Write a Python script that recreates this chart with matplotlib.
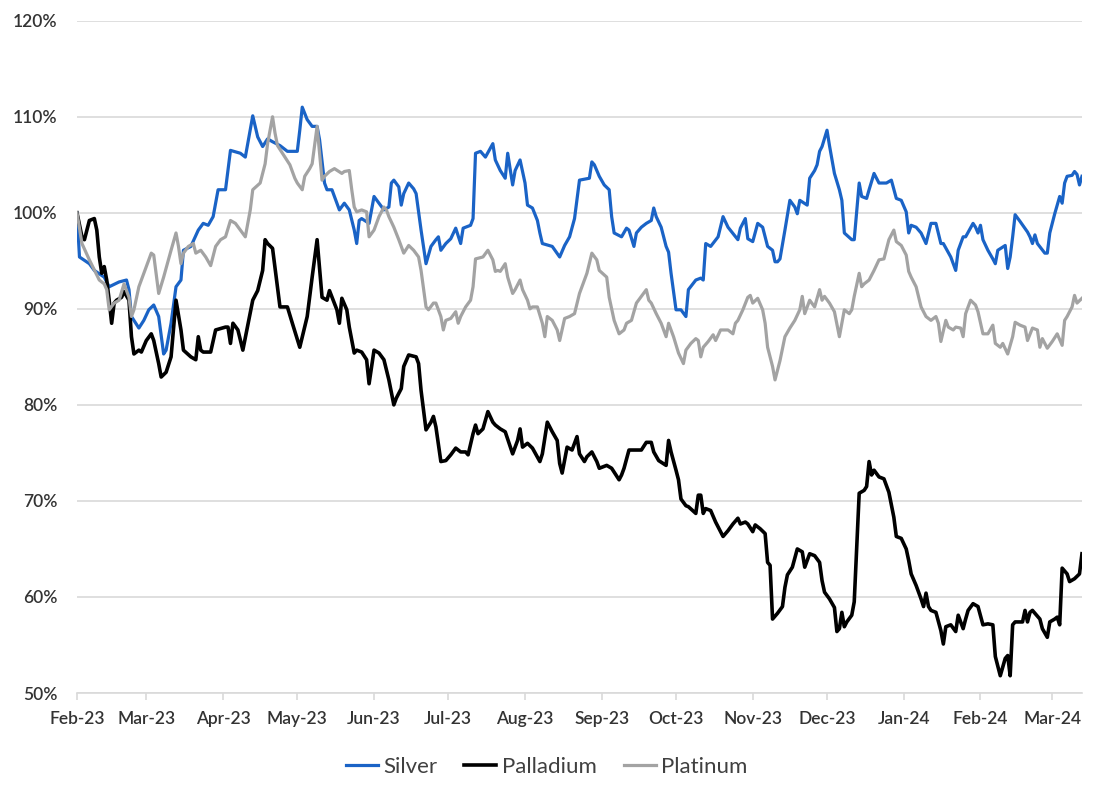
import numpy as np
import pandas as pd
import matplotlib
matplotlib.use('Agg')
import matplotlib.pyplot as plt
import matplotlib.dates as mdates
from matplotlib.ticker import FuncFormatter

plt.rcParams['font.family'] = ['Lato', 'DejaVu Sans']

## ------------ data, % of 1 Feb 2023 level ------------
start_date = '2023-02-01'

silver_day = [
    0, 1, 5, 7, 11, 13, 17, 20, 21, 22, 25, 27, 29, 31, 33, 35, 36, 38, 40, 42,
    43, 46, 49, 51, 53, 55, 57, 60, 62, 66, 68, 71, 73, 75, 77, 79, 82, 85, 89, 90,
    91, 93, 95, 97, 98, 100, 101, 103, 105, 106, 108, 110, 112, 113, 114, 115, 118, 120, 124, 126,
    127, 128, 130, 131, 132, 134, 136, 137, 139, 141, 143, 145, 146, 147, 149, 151, 153, 155, 156, 159,
    160, 161, 163, 165, 168, 169, 171, 173, 174, 176, 177, 179, 181, 182, 184, 186, 187, 188, 192, 195,
    197, 199, 201, 203, 207, 208, 209, 211, 213, 215, 216, 217, 220, 222, 223, 225, 226, 228, 230, 232,
    233, 234, 236, 238, 239, 240, 242, 244, 246, 247, 250, 252, 253, 254, 256, 259, 261, 263, 267, 268,
    270, 271, 273, 275, 277, 279, 281, 282, 283, 284, 286, 288, 290, 291, 292, 295, 296, 298, 299, 300,
    301, 303, 304, 306, 308, 309, 310, 313, 314, 316, 317, 319, 320, 322, 324, 327, 329, 331, 333, 335,
    336, 337, 339, 341, 343, 345, 347, 349, 350, 353, 355, 356, 358, 359, 362, 363, 364, 365, 366, 368,
    370, 371, 372, 375, 376, 377, 378, 379, 381, 384, 385, 386, 387, 388, 391, 392, 393, 395, 397, 398,
    399, 400, 402, 403, 404, 405, 406]
silver_pct = [
    100.0, 95.4, 94.7, 94.0, 93.3, 92.3, 92.8, 93.0, 92.0, 89.2, 88.0, 88.8, 89.9, 90.4, 89.2, 85.3, 85.7, 88.5, 92.3, 93.0,
    96.1, 96.5, 98.2, 98.9, 98.7, 99.6, 102.4, 102.4, 106.5, 106.2, 105.8, 110.1, 107.9, 106.9, 107.7, 107.4, 107.0, 106.4, 106.4, 108.6,
    111.0, 109.7, 109.0, 109.0, 107.6, 103.1, 102.4, 102.4, 101.0, 100.3, 101.0, 100.3, 98.2, 96.8, 99.2, 99.4, 98.9, 101.7, 100.3, 100.6,
    103.1, 103.4, 102.7, 100.8, 102.0, 103.1, 102.5, 102.0, 98.2, 94.7, 96.5, 97.2, 97.5, 96.1, 96.8, 97.3, 98.4, 96.8, 98.4, 98.7,
    99.4, 106.2, 106.4, 105.8, 107.2, 105.5, 104.4, 103.6, 106.2, 102.9, 104.4, 105.5, 103.1, 100.8, 100.5, 99.2, 97.9, 96.8, 96.5, 95.4,
    96.6, 97.5, 99.4, 103.4, 103.6, 105.3, 105.0, 103.8, 102.9, 102.4, 99.6, 97.9, 97.5, 98.4, 98.2, 96.5, 97.9, 98.5, 98.9, 99.2,
    100.5, 99.6, 98.5, 96.5, 95.9, 93.7, 89.9, 89.9, 89.2, 92.0, 93.0, 93.2, 93.0, 96.8, 96.5, 97.5, 99.6, 98.5, 97.2, 98.4,
    99.4, 97.3, 97.0, 98.9, 98.5, 96.5, 96.1, 94.9, 94.9, 95.2, 98.2, 101.3, 100.6, 99.9, 101.3, 100.8, 103.6, 104.4, 105.0, 106.4,
    106.9, 108.6, 107.0, 104.1, 102.4, 101.3, 97.9, 97.2, 97.2, 103.1, 101.7, 101.5, 102.4, 104.1, 103.1, 103.1, 103.4, 101.5, 101.3, 100.1,
    97.9, 98.7, 98.5, 97.9, 96.8, 98.9, 98.9, 96.8, 96.8, 95.4, 94.0, 96.1, 97.5, 97.5, 98.9, 98.5, 97.9, 98.7, 97.2, 96.1,
    95.2, 94.7, 96.1, 96.6, 94.2, 95.4, 97.5, 99.8, 99.1, 98.0, 97.5, 96.8, 97.7, 96.8, 95.8, 95.8, 97.9, 99.9, 101.7, 101.0,
    103.1, 103.8, 103.9, 104.3, 104.0, 102.9, 103.8]

palladium_day = [
    0, 2, 3, 5, 7, 8, 9, 10, 11, 12, 13, 14, 15, 16, 18, 19, 21, 22, 23, 25,
    26, 28, 30, 31, 33, 34, 36, 38, 40, 42, 43, 46, 48, 49, 50, 51, 54, 56, 60, 61,
    62, 63, 65, 67, 71, 73, 75, 76, 77, 79, 82, 85, 87, 90, 93, 95, 97, 99, 101, 102,
    105, 106, 107, 109, 110, 112, 113, 115, 117, 118, 120, 122, 124, 126, 128, 129, 131, 132, 134, 137,
    138, 139, 141, 143, 144, 145, 147, 149, 151, 153, 155, 157, 158, 160, 161, 162, 164, 166, 168, 169,
    171, 173, 176, 178, 179, 180, 182, 184, 187, 188, 190, 192, 194, 195, 196, 198, 200, 202, 203, 205,
    206, 208, 210, 211, 214, 216, 217, 219, 220, 221, 223, 228, 230, 232, 233, 235, 238, 239, 240, 242,
    243, 244, 246, 247, 250, 251, 252, 253, 254, 256, 258, 261, 263, 265, 267, 268, 270, 271, 273, 274,
    276, 278, 279, 280, 281, 283, 285, 286, 287, 289, 291, 293, 294, 296, 298, 300, 301, 302, 304, 306,
    307, 308, 309, 310, 311, 313, 314, 316, 318, 319, 320, 321, 322, 324, 326, 328, 330, 331, 333, 335,
    336, 337, 339, 341, 342, 343, 344, 345, 347, 349, 350, 351, 353, 355, 356, 358, 359, 360, 362, 364,
    366, 368, 370, 371, 373, 375, 376, 377, 378, 379, 382, 383, 384, 385, 386, 389, 390, 392, 393, 395,
    396, 397, 398, 400, 401, 403, 405, 406]
palladium_pct = [
    100.0, 97.5, 97.2, 99.2, 99.4, 98.2, 95.4, 93.7, 94.4, 93.0, 90.9, 88.5, 90.6, 90.9, 91.2, 91.8, 90.9, 87.1, 85.3, 85.7,
    85.5, 86.7, 87.4, 86.7, 84.3, 82.9, 83.4, 85.0, 90.9, 87.8, 85.7, 85.0, 84.7, 87.1, 85.7, 85.5, 85.5, 87.8, 88.1, 88.1,
    86.4, 88.5, 87.8, 85.7, 90.9, 91.9, 94.0, 97.2, 96.8, 96.3, 90.2, 90.2, 88.5, 86.0, 89.2, 93.3, 97.2, 91.2, 90.9, 91.9,
    89.9, 88.5, 91.1, 89.9, 88.1, 85.4, 85.7, 85.5, 84.7, 82.2, 85.7, 85.4, 84.7, 82.6, 80.0, 80.7, 81.7, 84.0, 85.2, 85.0,
    84.3, 81.5, 77.4, 78.2, 78.8, 77.7, 74.1, 74.2, 74.8, 75.5, 75.1, 75.1, 74.8, 77.0, 77.9, 77.0, 77.5, 79.3, 78.2, 77.9,
    77.5, 77.2, 74.9, 76.3, 77.5, 75.6, 76.0, 75.5, 74.1, 74.9, 78.2, 77.2, 76.3, 73.9, 72.9, 75.6, 75.3, 76.7, 74.9, 74.1,
    74.6, 75.1, 74.1, 73.4, 73.7, 73.4, 73.0, 72.2, 72.7, 73.4, 75.3, 75.3, 76.1, 76.1, 75.1, 74.2, 73.7, 76.3, 75.1, 73.2,
    72.2, 70.2, 69.5, 69.4, 68.7, 70.6, 70.6, 68.7, 69.2, 69.0, 67.8, 66.3, 66.9, 67.6, 68.2, 67.6, 67.8, 67.6, 66.8, 67.5,
    67.1, 66.6, 63.6, 63.3, 57.7, 58.3, 59.0, 61.0, 62.3, 63.1, 65.0, 64.7, 63.1, 64.5, 64.3, 63.6, 61.7, 60.5, 59.8, 58.9,
    56.4, 56.7, 58.4, 56.9, 57.4, 58.1, 59.5, 70.8, 71.1, 71.5, 74.1, 72.7, 73.2, 72.5, 72.3, 70.9, 68.3, 66.3, 66.1, 65.0,
    63.8, 62.4, 61.2, 59.8, 59.0, 60.4, 59.0, 58.6, 58.4, 56.5, 55.1, 56.9, 57.1, 56.4, 58.1, 56.7, 57.7, 58.6, 59.3, 59.0,
    57.1, 57.2, 57.1, 53.8, 51.8, 53.6, 53.9, 51.8, 57.1, 57.4, 57.4, 58.6, 57.4, 58.4, 58.6, 57.7, 56.7, 55.8, 57.4, 57.7,
    57.9, 57.1, 63.0, 62.4, 61.6, 61.9, 62.4, 64.5]

platinum_day = [
    0, 2, 5, 9, 11, 12, 13, 15, 17, 19, 21, 22, 23, 25, 27, 30, 31, 33, 35, 38,
    40, 41, 42, 43, 45, 47, 48, 50, 52, 54, 56, 58, 60, 62, 64, 66, 68, 70, 71, 74,
    76, 77, 79, 80, 81, 83, 86, 88, 89, 91, 92, 94, 95, 97, 99, 100, 102, 104, 107, 108,
    110, 111, 112, 113, 115, 117, 118, 120, 122, 124, 125, 126, 128, 130, 132, 134, 136, 138, 139, 141,
    142, 144, 145, 147, 148, 149, 151, 153, 154, 155, 157, 159, 160, 161, 164, 166, 168, 169, 170, 171,
    173, 174, 176, 177, 179, 180, 182, 183, 184, 186, 188, 189, 190, 192, 194, 195, 197, 199, 201, 203,
    206, 208, 210, 211, 214, 215, 217, 219, 221, 222, 224, 226, 228, 230, 231, 232, 234, 236, 238, 239,
    241, 243, 245, 246, 248, 250, 251, 252, 253, 255, 257, 258, 260, 263, 265, 266, 267, 269, 271, 272,
    273, 275, 277, 278, 279, 281, 282, 283, 284, 286, 288, 290, 292, 293, 294, 296, 298, 300, 301, 302,
    304, 306, 308, 310, 312, 313, 314, 316, 317, 318, 320, 322, 324, 326, 328, 330, 331, 333, 335, 336,
    337, 339, 341, 343, 345, 347, 348, 349, 351, 352, 354, 355, 357, 358, 359, 361, 363, 364, 366, 368,
    370, 371, 373, 374, 376, 378, 379, 381, 383, 384, 386, 388, 389, 390, 392, 394, 396, 398, 399, 400,
    402, 403, 404, 406]
platinum_pct = [
    100.0, 96.8, 95.1, 93.0, 92.6, 92.0, 89.9, 90.6, 90.9, 92.6, 91.2, 89.2, 89.9, 92.3, 93.7, 95.8, 95.6, 91.6, 93.3, 96.1,
    97.9, 96.5, 94.7, 95.8, 96.5, 96.8, 95.8, 96.1, 95.4, 94.5, 96.5, 97.2, 97.5, 99.2, 98.9, 98.2, 97.5, 100.3, 102.4, 103.1,
    105.1, 107.2, 110.0, 108.3, 107.0, 106.2, 105.0, 103.6, 103.1, 102.4, 103.8, 104.6, 105.1, 109.0, 103.4, 103.8, 104.3, 104.6, 104.1, 104.3,
    104.4, 102.4, 100.6, 100.1, 100.3, 100.1, 97.5, 98.2, 99.6, 100.6, 100.3, 99.6, 98.5, 97.2, 95.8, 96.6, 96.1, 95.4, 94.0, 90.2,
    89.9, 90.6, 90.6, 89.2, 87.8, 88.8, 89.0, 89.7, 88.5, 89.2, 90.2, 90.9, 92.3, 95.2, 95.4, 96.1, 95.1, 93.9, 94.0, 93.9,
    94.7, 93.3, 91.6, 92.0, 93.0, 92.0, 90.9, 90.0, 90.2, 90.2, 88.5, 87.1, 89.2, 88.8, 87.8, 86.7, 89.0, 89.2, 89.5, 91.6,
    93.7, 95.8, 95.1, 94.0, 93.3, 91.2, 88.8, 87.4, 87.8, 88.5, 88.8, 90.6, 91.3, 92.0, 90.9, 90.6, 89.5, 88.5, 87.1, 88.5,
    87.1, 85.4, 84.3, 85.7, 86.4, 86.9, 86.7, 85.0, 86.0, 86.6, 87.3, 86.7, 87.8, 87.8, 87.4, 88.5, 88.8, 89.9, 91.2, 91.4,
    90.6, 91.1, 89.9, 88.5, 86.0, 84.0, 82.6, 83.6, 84.6, 87.1, 88.0, 88.8, 89.9, 91.3, 89.5, 90.9, 90.2, 92.0, 90.9, 91.3,
    90.6, 89.7, 87.1, 89.9, 89.5, 89.9, 91.3, 93.7, 92.3, 92.6, 93.0, 94.0, 95.1, 95.2, 97.2, 98.2, 97.0, 96.6, 95.6, 93.9,
    93.3, 92.3, 90.2, 89.2, 88.8, 89.2, 88.5, 86.6, 88.8, 88.1, 87.8, 88.1, 88.0, 87.1, 89.5, 90.9, 90.4, 89.7, 87.4, 87.4,
    88.3, 86.4, 86.0, 86.4, 85.3, 87.1, 88.6, 88.3, 88.1, 86.7, 88.0, 87.8, 86.0, 86.9, 85.9, 86.6, 87.4, 86.2, 88.8, 89.2,
    90.2, 91.4, 90.6, 91.1]

series_names = ['Silver', 'Palladium', 'Platinum']
## --------------------------------------------------------------------------

start = pd.Timestamp(start_date)

def to_dates(days):
    return start + pd.to_timedelta(np.array(days), unit='D')

series = [
    (silver_day, silver_pct, '#1a63c6', 2.3),
    (palladium_day, palladium_pct, '#000000', 2.6),
    (platinum_day, platinum_pct, '#a3a3a3', 2.3),
]

fig = plt.figure(figsize=(11, 7.94), dpi=100)
ax = fig.add_axes([0.07, 0.1272, 0.9136, 0.8467])

for name, (days, pct, clr, lw) in zip(series_names, series):
    ax.plot(to_dates(days), pct, color=clr, lw=lw, label=name, solid_joinstyle='round')

ax.set_ylim(50, 120)
ax.set_yticks(np.arange(50, 121, 10))
ax.yaxis.set_major_formatter(FuncFormatter(lambda v, p: f'{v:.0f}%'))
ax.set_xlim(start, start + pd.Timedelta(days=406))
ax.xaxis.set_major_locator(mdates.MonthLocator())
ax.xaxis.set_major_formatter(mdates.DateFormatter('%b-%y'))

ax.grid(axis='y', color='#d9d9d9', lw=1.2)
ax.set_axisbelow(True)
for s in ['top', 'right', 'left']:
    ax.spines[s].set_visible(False)
ax.spines['bottom'].set_color('#d9d9d9')
ax.spines['bottom'].set_linewidth(1.2)

ax.tick_params(axis='x', length=5, width=1.2, color='#d9d9d9', pad=8,
               labelsize=12.5, labelcolor='#333333')
ax.tick_params(axis='y', length=0, pad=14, labelsize=12.5, labelcolor='#333333')
for lbl in ax.get_xticklabels() + ax.get_yticklabels():
    lbl.set_fontweight(600)

fig.legend(loc='center', bbox_to_anchor=(0.497, 0.034), ncol=3, frameon=False,
           fontsize=16, handlelength=1.45, columnspacing=1.2, handletextpad=0.25,
           labelcolor='#404040')

fig.savefig('out.png', dpi=100)
